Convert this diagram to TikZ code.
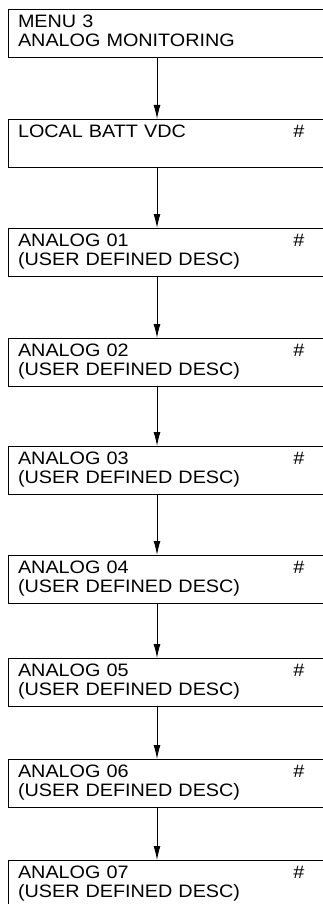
\documentclass[tikz,border=0pt]{standalone}
\usepackage{fontspec}
\setmainfont{Liberation Sans}[FakeStretch=1.1]
\usetikzlibrary{arrows.meta}

\tikzset{
  screen/.style={draw, line width=1pt, anchor=north west, text width=330pt,
    inner xsep=9.5pt, inner ysep=5pt, align=left,
    font=\fontsize{18}{19}\selectfont},
  flow/.style={-{Latex[length=14pt,width=7pt]}, line width=1pt}
}
\newcommand{\panel}[3]{\makebox[286.5pt][l]{\strut#1\hfill#2}\\\strut#3}

\begin{document}
\begin{tikzpicture}[x=1pt, y=-1pt]
    \path[use as bounding box, clip] (0,0) rectangle (323,904);

    \node[screen] (menu)  at (8,9)   {\panel{MENU 3}{}{ANALOG MONITORING}};
    \node[screen] (batt)  at (8,119) {\panel{LOCAL BATT VDC}{\#}{}};
    \node[screen] (an1)   at (8,228) {\panel{ANALOG 01}{\#}{(USER DEFINED DESC)}};
    \node[screen] (an2)   at (8,338) {\panel{ANALOG 02}{\#}{(USER DEFINED DESC)}};
    \node[screen] (an3)   at (8,446) {\panel{ANALOG 03}{\#}{(USER DEFINED DESC)}};
    \node[screen] (an4)   at (8,555) {\panel{ANALOG 04}{\#}{(USER DEFINED DESC)}};
    \node[screen] (an5)   at (8,658) {\panel{ANALOG 05}{\#}{(USER DEFINED DESC)}};
    \node[screen] (an6)   at (8,759) {\panel{ANALOG 06}{\#}{(USER DEFINED DESC)}};
    \node[screen] (an7)   at (8,860) {\panel{ANALOG 07}{\#}{(USER DEFINED DESC)}};

    % arrows run down the same vertical line
    \coordinate (ax) at (157,0);
    \draw[flow] (menu.south -| ax) -- (batt.north -| ax);
    \draw[flow] (batt.south -| ax) -- (an1.north -| ax);
    \draw[flow] (an1.south -| ax) -- (an2.north -| ax);
    \draw[flow] (an2.south -| ax) -- (an3.north -| ax);
    \draw[flow] (an3.south -| ax) -- (an4.north -| ax);
    \draw[flow] (an4.south -| ax) -- (an5.north -| ax);
    \draw[flow] (an5.south -| ax) -- (an6.north -| ax);
    \draw[flow] (an6.south -| ax) -- (an7.north -| ax);
\end{tikzpicture}
\end{document}
